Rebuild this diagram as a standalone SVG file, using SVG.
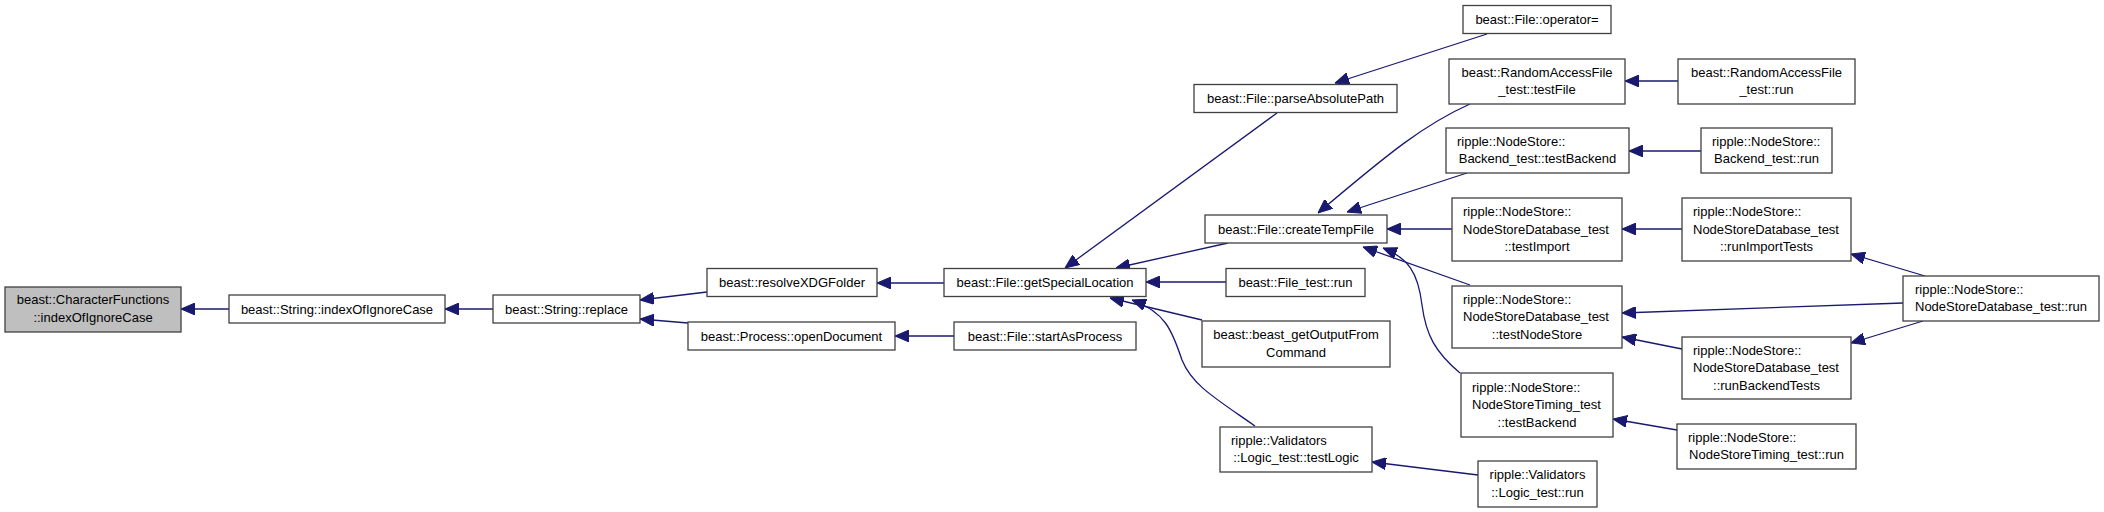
<svg xmlns="http://www.w3.org/2000/svg" width="2104" height="512" viewBox="0 0 2104 512">
<style>
.n rect{fill:#ffffff;stroke:#404040;stroke-width:1.3}
.n.root rect{fill:#bfbfbf}
.n text{font-family:"Liberation Sans",Arial,sans-serif;font-size:13px;fill:#000000}
.c{text-anchor:middle}
.l{text-anchor:start}
.e path{fill:none;stroke:#191970;stroke-width:1.3;marker-end:url(#ah)}
</style>
<defs>
<marker id="ah" markerUnits="userSpaceOnUse" markerWidth="14" markerHeight="12" viewBox="0 0 14 12" refX="14" refY="6" orient="auto">
<path d="M0,0 L14,6 L0,12 Z" fill="#191970" stroke="#191970" stroke-width="1"/>
</marker>
</defs>
<rect width="2104" height="512" fill="#ffffff"/>
<g id="edges" class="e">
<path d="M229,309 L181,309"/>
<path d="M493,309 L445,309"/>
<path d="M707,292 L640,300"/>
<path d="M688,323 L640,319"/>
<path d="M944,283 L877,283"/>
<path d="M954,336 L895,336"/>
<path d="M1277,113 L1065,268"/>
<path d="M1228,243 L1116,268"/>
<path d="M1226,282 L1146,282"/>
<path d="M1202,320 L1110,298"/>
<path d="M1255,426 C1215,398 1192,385 1182,360 C1172,330 1165,312 1132,300"/>
<path d="M1470,104 C1425,124 1390,152 1318,213"/>
<path d="M1467,173 L1347,212"/>
<path d="M1452,229 L1387,229"/>
<path d="M1470,285 L1363,247"/>
<path d="M1460,373 C1435,352 1426,335 1422,305 C1418,272 1408,258 1383,248"/>
<path d="M1487,34 L1335,83"/>
<path d="M1678,81 L1625,81"/>
<path d="M1701,151 L1629,151"/>
<path d="M1682,229 L1622,229"/>
<path d="M1682,349 L1622,337"/>
<path d="M1903,303 L1622,313"/>
<path d="M1925,276 L1851,254"/>
<path d="M1923,321 L1851,343"/>
<path d="M1677,430 L1613,419"/>
<path d="M1478,475 L1372,462"/>
</g>
<g id="n_charfunc" class="n root">
<rect x="5" y="287" width="176" height="45"/>
<text class="c" x="93" y="304">beast::CharacterFunctions</text>
<text class="c" x="93" y="321.5">::indexOfIgnoreCase</text>
</g>
<g id="n_indexof" class="n">
<rect x="229" y="295" width="216" height="28"/>
<text class="c" x="337" y="313.5">beast::String::indexOfIgnoreCase</text>
</g>
<g id="n_replace" class="n">
<rect x="493" y="295" width="147" height="28"/>
<text class="c" x="566.5" y="313.5">beast::String::replace</text>
</g>
<g id="n_resolvexdg" class="n">
<rect x="707" y="268.5" width="170" height="28"/>
<text class="c" x="792" y="287">beast::resolveXDGFolder</text>
</g>
<g id="n_opendoc" class="n">
<rect x="688" y="322" width="207" height="28"/>
<text class="c" x="791.5" y="340.5">beast::Process::openDocument</text>
</g>
<g id="n_getspecial" class="n">
<rect x="944" y="268.5" width="202" height="28"/>
<text class="c" x="1045" y="287">beast::File::getSpecialLocation</text>
</g>
<g id="n_startasprocess" class="n">
<rect x="954" y="322" width="182" height="28"/>
<text class="c" x="1045" y="340.5">beast::File::startAsProcess</text>
</g>
<g id="n_parseabs" class="n">
<rect x="1194" y="84.5" width="203" height="28"/>
<text class="c" x="1295.5" y="103">beast::File::parseAbsolutePath</text>
</g>
<g id="n_operator" class="n">
<rect x="1463" y="5.5" width="148" height="28"/>
<text class="c" x="1537" y="24">beast::File::operator=</text>
</g>
<g id="n_testfile" class="n">
<rect x="1449" y="59" width="176" height="45"/>
<text class="c" x="1537" y="76.5">beast::RandomAccessFile</text>
<text class="c" x="1537" y="94">_test::testFile</text>
</g>
<g id="n_backendtest" class="n">
<rect x="1446" y="128" width="183" height="45"/>
<text class="l" x="1457" y="145.5">ripple::NodeStore::</text>
<text class="c" x="1537.5" y="163">Backend_test::testBackend</text>
</g>
<g id="n_createtemp" class="n">
<rect x="1205" y="215" width="182" height="28"/>
<text class="c" x="1296" y="233.5">beast::File::createTempFile</text>
</g>
<g id="n_testimport" class="n">
<rect x="1452" y="198" width="170" height="63"/>
<text class="l" x="1463" y="216">ripple::NodeStore::</text>
<text class="l" x="1463" y="233.5">NodeStoreDatabase_test</text>
<text class="c" x="1537" y="251">::testImport</text>
</g>
<g id="n_filetestrun" class="n">
<rect x="1226" y="268.5" width="139" height="28"/>
<text class="c" x="1295.5" y="287">beast::File_test::run</text>
</g>
<g id="n_getoutput" class="n">
<rect x="1202" y="321" width="188" height="46"/>
<text class="c" x="1296" y="339">beast::beast_getOutputFrom</text>
<text class="c" x="1296" y="356.5">Command</text>
</g>
<g id="n_testnodestore" class="n">
<rect x="1452" y="286" width="170" height="62"/>
<text class="l" x="1463" y="303.5">ripple::NodeStore::</text>
<text class="l" x="1463" y="321">NodeStoreDatabase_test</text>
<text class="c" x="1537" y="338.5">::testNodeStore</text>
</g>
<g id="n_timingtestbackend" class="n">
<rect x="1461" y="373" width="152" height="64"/>
<text class="l" x="1472" y="391.5">ripple::NodeStore::</text>
<text class="l" x="1472" y="409">NodeStoreTiming_test</text>
<text class="c" x="1537" y="426.5">::testBackend</text>
</g>
<g id="n_testlogic" class="n">
<rect x="1220" y="427" width="152" height="45"/>
<text class="l" x="1231" y="444.5">ripple::Validators</text>
<text class="c" x="1296" y="462">::Logic_test::testLogic</text>
</g>
<g id="n_logicrun" class="n">
<rect x="1478" y="461" width="119" height="46"/>
<text class="c" x="1537.5" y="479">ripple::Validators</text>
<text class="c" x="1537.5" y="496.5">::Logic_test::run</text>
</g>
<g id="n_rafrun" class="n">
<rect x="1678" y="59" width="177" height="45"/>
<text class="c" x="1766.5" y="76.5">beast::RandomAccessFile</text>
<text class="c" x="1766.5" y="94">_test::run</text>
</g>
<g id="n_backendrun" class="n">
<rect x="1701" y="128" width="131" height="45"/>
<text class="l" x="1712" y="145.5">ripple::NodeStore::</text>
<text class="c" x="1766.5" y="163">Backend_test::run</text>
</g>
<g id="n_runimport" class="n">
<rect x="1682" y="198" width="169" height="63"/>
<text class="l" x="1693" y="216">ripple::NodeStore::</text>
<text class="l" x="1693" y="233.5">NodeStoreDatabase_test</text>
<text class="c" x="1766.5" y="251">::runImportTests</text>
</g>
<g id="n_runbackend" class="n">
<rect x="1682" y="337" width="169" height="62"/>
<text class="l" x="1693" y="354.5">ripple::NodeStore::</text>
<text class="l" x="1693" y="372">NodeStoreDatabase_test</text>
<text class="c" x="1766.5" y="389.5">::runBackendTests</text>
</g>
<g id="n_timingrun" class="n">
<rect x="1677" y="424" width="179" height="45"/>
<text class="l" x="1688" y="441.5">ripple::NodeStore::</text>
<text class="c" x="1766.5" y="459">NodeStoreTiming_test::run</text>
</g>
<g id="n_nsdrun" class="n">
<rect x="1903" y="276" width="196" height="45"/>
<text class="l" x="1915" y="293.5">ripple::NodeStore::</text>
<text class="c" x="2001" y="311">NodeStoreDatabase_test::run</text>
</g>
</svg>
